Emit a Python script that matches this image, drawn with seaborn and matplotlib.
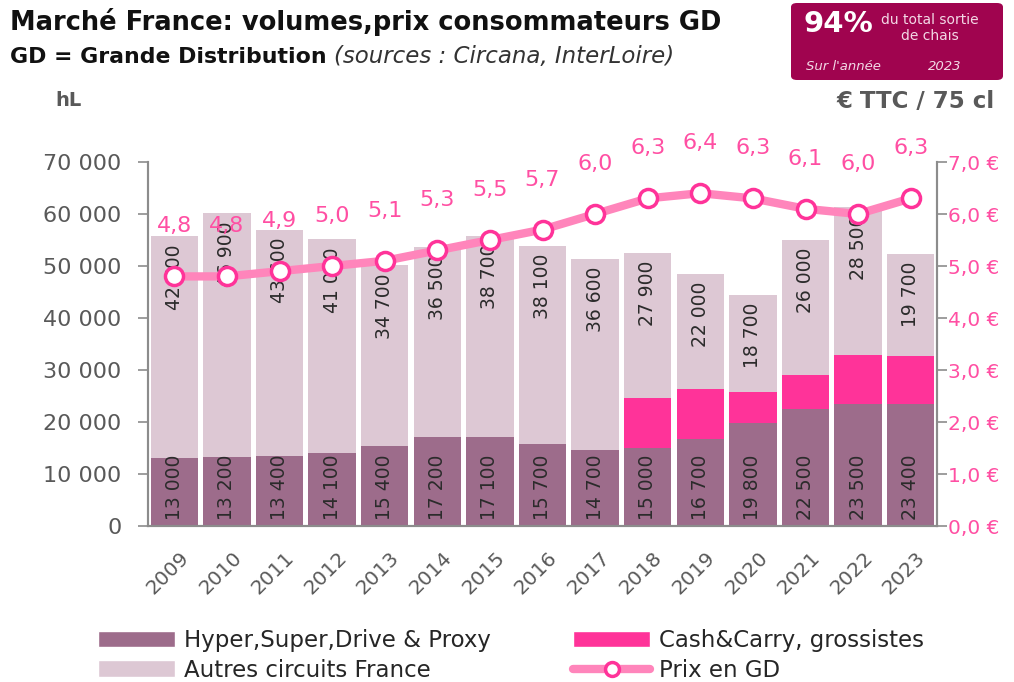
import matplotlib
matplotlib.use("Agg")
import matplotlib.pyplot as plt
import matplotlib.transforms as mtransforms
from matplotlib.lines import Line2D
from matplotlib.patches import FancyBboxPatch, Patch
import numpy as np
import pandas as pd
import seaborn as sns

# values
years = ["2009", "2010", "2011", "2012", "2013", "2014", "2015", "2016",
         "2017", "2018", "2019", "2020", "2021", "2022", "2023"]
hyper = [13000, 13200, 13400, 14100, 15400, 17200, 17100, 15700,
         14700, 15000, 16700, 19800, 22500, 23500, 23400]
cash = [0, 0, 0, 0, 0, 0, 0, 0, 0, 9600, 9700, 6000, 6500, 9400, 9300]
autres = [42700, 46900, 43600, 41000, 34700, 36500, 38700, 38100,
          36600, 27900, 22000, 18700, 26000, 28500, 19700]
prix = [4.8, 4.8, 4.9, 5.0, 5.1, 5.3, 5.5, 5.7, 6.0, 6.3, 6.4, 6.3, 6.1, 6.0, 6.3]
left_ticks = [0, 10000, 20000, 30000, 40000, 50000, 60000, 70000]
right_ticks = [0, 1, 2, 3, 4, 5, 6, 7]

C_HYPER = "#9d6c8b"
C_CASH = "#ff3399"
C_AUTRES = "#ddc8d4"
C_LINE = "#ff85bb"
C_PINK = "#ff4fa3"
C_BOX = "#a0044f"
C_GREY = "#595959"

sns.set_theme(style="white")
plt.rcParams["font.family"] = ["DejaVu Sans"]

df = pd.DataFrame({"year": years, "hyper": hyper, "cash": cash,
                   "autres": autres, "prix": prix})
df["mid"] = df["hyper"] + df["cash"]
df["total"] = df["mid"] + df["autres"]
df["pos"] = np.arange(len(df))

fig = plt.figure(figsize=(10.14, 6.82), dpi=100)
ax = fig.add_axes([148 / 1014, 1 - 526 / 682, (937 - 148) / 1014, (526 - 162) / 682])

# stacked bars: draw cumulative totals from back to front
for col, color in [("total", C_AUTRES), ("mid", C_CASH), ("hyper", C_HYPER)]:
    sns.barplot(data=df, x="year", y=col, color=color, width=0.9,
                saturation=1, linewidth=0, ax=ax)

ax.set_xlim(-0.5, len(years) - 0.5)
ax.set_ylim(0, 70000)
ax.set_yticks(left_ticks)
ax.set_yticklabels([f"{v:,}".replace(",", " ") for v in left_ticks],
                   fontsize=16, color=C_GREY)
ax.set_xlabel("")
ax.set_ylabel("")

# year labels, tick marks between bars
ax.set_xticks(df["pos"])
ax.set_xticklabels(years, rotation=45, ha="right", va="top",
                   rotation_mode="anchor", fontsize=14.5, color=C_GREY)
ax.tick_params(axis="x", length=0, pad=16)
shift = mtransforms.ScaledTranslation(5 / 100, 0, fig.dpi_scale_trans)
for lbl in ax.get_xticklabels():
    lbl.set_transform(lbl.get_transform() + shift)
ax.set_xticks(np.arange(-0.5, len(years)), minor=True)
ax.tick_params(axis="x", which="minor", length=7, width=1.2, color="#8c8c8c",
               direction="out")
ax.tick_params(axis="y", length=7, width=1.2, color="#8c8c8c", direction="out",
               left=True, pad=12)

for side in ["left", "bottom", "right"]:
    ax.spines[side].set_color("#8c8c8c")
    ax.spines[side].set_linewidth(1.5)
ax.spines["top"].set_visible(False)

# value labels inside the bars
for i, row in df.iterrows():
    ax.text(row["pos"], 1200, f"{row['hyper']:,}".replace(",", " "),
            rotation=90, ha="center", va="bottom", fontsize=13.5, color="#2b2b2b")
    ax.text(row["pos"], row["total"] - 1500, f"{row['autres']:,}".replace(",", " "),
            rotation=90, ha="center", va="top", fontsize=13.5, color="#2b2b2b")

# price line on the secondary axis
ax2 = ax.twinx()
sns.lineplot(data=df, x="pos", y="prix", color=C_LINE, linewidth=6,
             marker="o", markersize=13, markerfacecolor="white",
             markeredgecolor=C_CASH, markeredgewidth=2.5, ax=ax2)
ax2.set_ylim(0, 7)
ax2.set_yticks(right_ticks)
ax2.set_yticklabels([f"{v:.1f} €".replace(".", ",") for v in right_ticks],
                    fontsize=14.5, color=C_PINK)
ax2.tick_params(axis="y", length=7, width=1.2, color="#8c8c8c", direction="out",
                right=True, pad=1)
ax2.set_ylabel("")
ax2.set_xlabel("")
ax2.grid(False)
for side in ["left", "bottom", "right"]:
    ax2.spines[side].set_color("#8c8c8c")
    ax2.spines[side].set_linewidth(1.5)
ax2.spines["top"].set_visible(False)

for i, row in df.iterrows():
    ax2.annotate(f"{row['prix']:.1f}".replace(".", ","), (row["pos"], row["prix"]),
                 xytext=(0, 36), textcoords="offset points", ha="center",
                 va="center", fontsize=16, color=C_PINK)

# titles and unit labels
fig.text(10 / 1014, 1 - 22 / 682, "Marché France: volumes,prix consommateurs GD",
         fontsize=18.5, fontweight="bold", color="#111111", va="center")
sub = fig.text(10 / 1014, 1 - 57 / 682, "GD = Grande Distribution",
               fontsize=15.8, fontweight="bold", color="#111111", va="center")
fig.canvas.draw()
bb = sub.get_window_extent(fig.canvas.get_renderer())
fig.text(bb.x1 / 1014 + 7 / 1014, 1 - 57 / 682, "(sources : Circana, InterLoire)",
         fontsize=16.5, style="italic", color="#333333", va="center")
fig.text(55 / 1014, 1 - 100 / 682, "hL", fontsize=14, fontweight="bold",
         color=C_GREY, va="center")
fig.text(995 / 1014, 1 - 101 / 682, "€ TTC / 75 cl", fontsize=16.5, fontweight="bold",
         color=C_GREY, va="center", ha="right")

# highlight box top right
box = FancyBboxPatch((791 / 1014, 1 - 80 / 682), 212 / 1014, 77 / 682,
                     boxstyle="round,pad=0,rounding_size=0.006",
                     transform=fig.transFigure, facecolor=C_BOX, edgecolor="none")
fig.patches.append(box)
fig.text(838 / 1014, 1 - 24 / 682, "94%", fontsize=21, fontweight="bold",
         color="white", ha="center", va="center")
fig.text(930 / 1014, 1 - 28 / 682, "du total sortie\nde chais", fontsize=10,
         color="#f3d9e6", ha="center", va="center", linespacing=1.2)
fig.text(806 / 1014, 1 - 67 / 682, "Sur l'année", fontsize=9.5, style="italic",
         color="#f3d9e6", va="center")
fig.text(945 / 1014, 1 - 67 / 682, "2023", fontsize=9.5, style="italic",
         color="#f3d9e6", va="center", ha="center")

# legend
handles = [
    Patch(facecolor=C_HYPER, label="Hyper,Super,Drive & Proxy"),
    Patch(facecolor=C_AUTRES, label="Autres circuits France"),
    Patch(facecolor=C_CASH, label="Cash&Carry, grossistes"),
    Line2D([0], [0], color=C_LINE, linewidth=6, marker="o", markersize=10,
           markerfacecolor="white", markeredgecolor=C_CASH, markeredgewidth=2.5,
           label="Prix en GD"),
]
fig.legend(handles=handles, loc="upper left", bbox_to_anchor=(98 / 1014, 1 - 629 / 682),
           ncol=2, frameon=False, fontsize=16.5, handlelength=3.35, handleheight=0.75,
           handletextpad=0.4, columnspacing=3.6, labelspacing=0.3,
           borderaxespad=0, borderpad=0)

fig.savefig("out.png", dpi=100)
